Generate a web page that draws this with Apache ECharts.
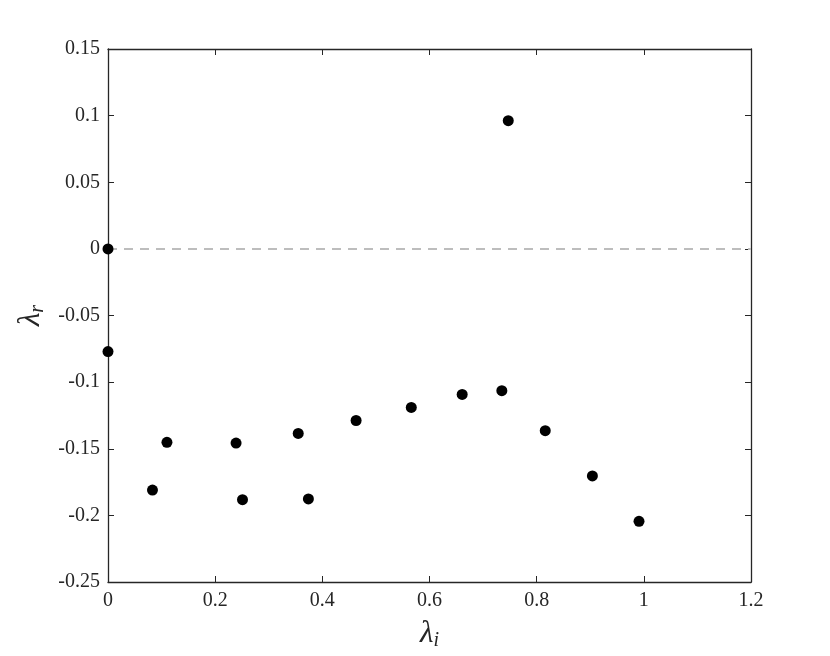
<!DOCTYPE html>
<html>
<head>
<meta charset="utf-8">
<script src="https://cdn.jsdelivr.net/npm/echarts@6/dist/echarts.min.js"></script>
<style>
html,body{margin:0;padding:0;background:#fff;}
#chart{width:830px;height:656px;}
</style>
</head>
<body>
<div id="chart"></div>
<script>
// eigenvalues: imaginary part (x) and real part (y)
var lambdaI = [0, 0, 0.747, 0.083, 0.110, 0.239, 0.251, 0.355, 0.374, 0.463, 0.566, 0.661, 0.735, 0.816, 0.904, 0.991];
var lambdaR = [0, -0.0771, 0.0962, -0.181, -0.1452, -0.1457, -0.1882, -0.1385, -0.1877, -0.1288, -0.1190, -0.1092, -0.1064, -0.1364, -0.1704, -0.2045];
var xTicks = [0, 0.2, 0.4, 0.6, 0.8, 1, 1.2];
var yTicks = [-0.25, -0.2, -0.15, -0.1, -0.05, 0, 0.05, 0.1, 0.15];

var axisColor = '#262626';
var fontName = 'Liberation Serif';

var points = [];
for (var i = 0; i < lambdaI.length; i++) {
    points.push([lambdaI[i], lambdaR[i]]);
}

function fmt(v) {
    return String(Math.round(v * 1000) / 1000);
}

var nameRich = {
    a: {fontFamily: fontName, fontStyle: 'italic', fontSize: 31, color: '#262626'},
    b: {fontFamily: fontName, fontStyle: 'italic', fontSize: 20, color: '#262626', verticalAlign: 'bottom', padding: [14, 0, 0, 0]}
};

var option = {
    backgroundColor: '#fff',
    animation: false,
    grid: {
        left: 108,
        top: 49,
        right: 79,
        bottom: 74,
        containLabel: false
    },
    xAxis: [
        {
            type: 'value',
            min: xTicks[0],
            max: xTicks[xTicks.length - 1],
            interval: 0.2,
            name: '{a|λ}{b|i}',
            nameLocation: 'middle',
            nameGap: 35,
            nameTextStyle: {rich: nameRich},
            axisLine: {show: true, onZero: false, lineStyle: {color: axisColor, width: 1.3}},
            axisTick: {show: true, inside: true, length: 6, lineStyle: {color: axisColor}},
            axisLabel: {color: '#262626', fontFamily: fontName, fontSize: 20, margin: 9, formatter: fmt},
            splitLine: {show: false}
        },
        {
            type: 'value',
            position: 'top',
            min: xTicks[0],
            max: xTicks[xTicks.length - 1],
            interval: 0.2,
            axisLine: {show: true, onZero: false, lineStyle: {color: axisColor, width: 1.3}},
            axisTick: {show: true, inside: true, length: 6, lineStyle: {color: axisColor}},
            axisLabel: {show: false},
            splitLine: {show: false}
        }
    ],
    yAxis: [
        {
            type: 'value',
            min: yTicks[0],
            max: yTicks[yTicks.length - 1],
            interval: 0.05,
            name: '{a|λ}{b|r}',
            nameLocation: 'middle',
            nameGap: 57,
            nameRotate: 90,
            nameTextStyle: {rich: nameRich},
            axisLine: {show: true, onZero: false, lineStyle: {color: axisColor, width: 1.3}},
            axisTick: {show: true, inside: true, length: 6, lineStyle: {color: axisColor}},
            axisLabel: {color: '#262626', fontFamily: fontName, fontSize: 20, margin: 8, formatter: fmt},
            splitLine: {show: false}
        },
        {
            type: 'value',
            position: 'right',
            min: yTicks[0],
            max: yTicks[yTicks.length - 1],
            interval: 0.05,
            axisLine: {show: true, onZero: false, lineStyle: {color: axisColor, width: 1.3}},
            axisTick: {show: true, inside: true, length: 6, lineStyle: {color: axisColor}},
            axisLabel: {show: false},
            splitLine: {show: false}
        }
    ],
    series: [
        {
            type: 'line',
            data: [[xTicks[0], 0], [xTicks[xTicks.length - 1], 0]],
            symbol: 'none',
            lineStyle: {color: '#bdbdbd', width: 2, type: [9, 7]},
            z: 1,
            silent: true
        },
        {
            type: 'scatter',
            data: points,
            symbol: 'circle',
            symbolSize: 11,
            itemStyle: {color: '#000', opacity: 1},
            z: 3
        }
    ]
};

var chart = echarts.init(document.getElementById('chart'));
chart.setOption(option, true);
</script>
</body>
</html>
